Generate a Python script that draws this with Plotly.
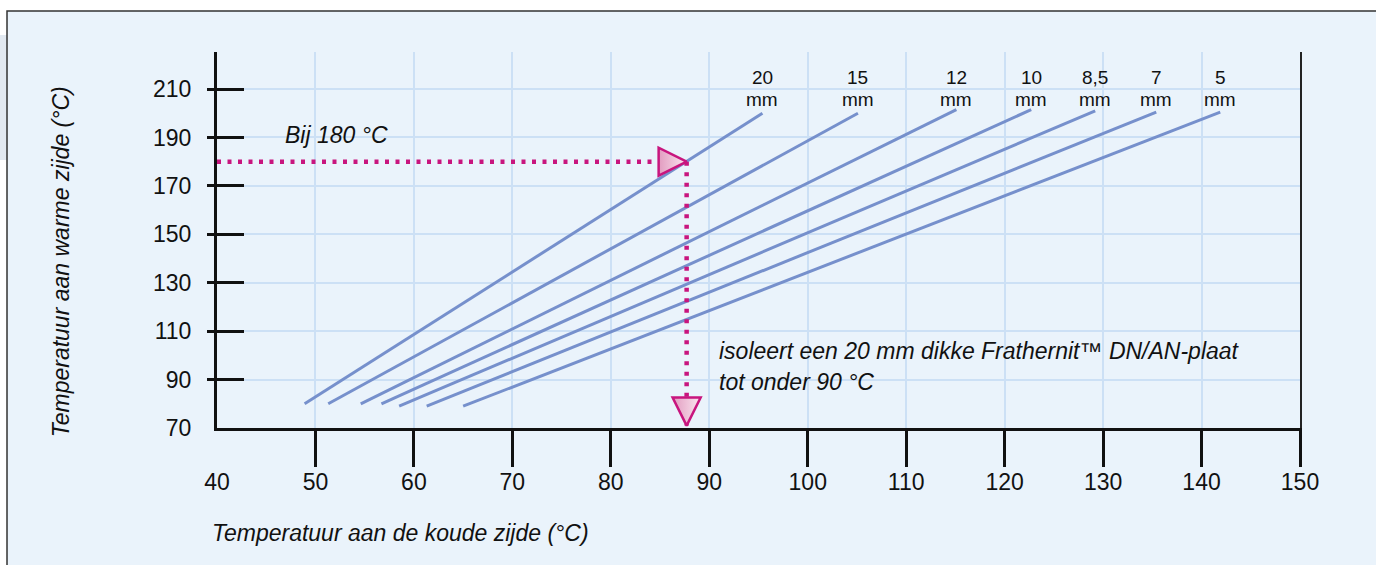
import plotly.graph_objects as go

# ---------------- data ----------------
thickness_labels = ["20", "15", "12", "10", "8,5", "7", "5"]
x_start = [48.9, 51.3, 54.6, 56.7, 58.5, 61.3, 65.0]
y_start = [80, 80, 80, 80, 79, 79, 79]
x_end = [95.4, 105.1, 115.1, 122.7, 129.2, 135.4, 141.9]
y_end = [200, 200, 201.5, 201.5, 201, 200.5, 200.5]

hot_side_reading = 180      # Bij 180 °C
cold_side_reading = 87.7    # resulting cold-side temperature (20 mm)
arrow_bottom_y = 71

x_ticks = [40, 50, 60, 70, 80, 90, 100, 110, 120, 130, 140, 150]
y_ticks = [70, 90, 110, 130, 150, 170, 190, 210]
x_range = [40, 150]
y_range = [70, 225.3]

# ---------------- style ----------------
FONT = "Liberation Sans, Arial, Helvetica, sans-serif"
BG = "#EAF3FB"
GRID = "#CCE0F5"
LINE_BLUE = "#7690CC"
MAGENTA = "#C8157E"

fig = go.Figure()

for i, lab in enumerate(thickness_labels):
    fig.add_trace(go.Scatter(
        x=[x_start[i], x_end[i]], y=[y_start[i], y_end[i]],
        mode="lines", line=dict(color=LINE_BLUE, width=3),
        hoverinfo="skip", showlegend=False))

# reading lines
fig.add_trace(go.Scatter(
    x=[x_range[0], cold_side_reading], y=[hot_side_reading, hot_side_reading],
    mode="lines", line=dict(color=MAGENTA, width=4.5, dash="4px,6.5px"),
    hoverinfo="skip", showlegend=False))
fig.add_trace(go.Scatter(
    x=[cold_side_reading, cold_side_reading], y=[hot_side_reading, arrow_bottom_y],
    mode="lines", line=dict(color=MAGENTA, width=4.5, dash="4px,6.5px"),
    hoverinfo="skip", showlegend=False))

arrow_marker = dict(size=28, color="#E29CC0",
                    gradient=dict(type="horizontal", color="#FAE6F0"),
                    line=dict(color=MAGENTA, width=2.5))
fig.add_trace(go.Scatter(
    x=[cold_side_reading], y=[hot_side_reading], mode="markers",
    marker=dict(symbol="arrow-right", **arrow_marker),
    hoverinfo="skip", showlegend=False, cliponaxis=False))
fig.add_trace(go.Scatter(
    x=[cold_side_reading], y=[arrow_bottom_y], mode="markers",
    marker=dict(symbol="arrow-down", **arrow_marker),
    hoverinfo="skip", showlegend=False, cliponaxis=False))

# empty traces so that the overlay axes (tick marks / right border) are drawn
for xa, ya in [("x2", "y"), ("x", "y2"), ("x", "y3"), ("x", "y4")]:
    fig.add_trace(go.Scatter(x=[], y=[], xaxis=xa, yaxis=ya, mode="lines",
                             hoverinfo="skip", showlegend=False))

# thickness labels (number above "mm"), on a common baseline
LBL = dict(family=FONT, size=19, color="#111")
for i, lab in enumerate(thickness_labels):
    fig.add_annotation(x=x_end[i], y=0.874, xref="x", yref="paper",
                       text="mm", showarrow=False,
                       xanchor="center", yanchor="middle", font=LBL)
    fig.add_annotation(x=x_end[i], y=0.9316, xref="x", yref="paper",
                       text=lab, showarrow=False,
                       xanchor="center", yanchor="middle", font=LBL)

# texts
TXT = dict(family=FONT, size=23, color="#111")
fig.add_annotation(x=46.7, y=191, xref="x", yref="y", text="<i>Bij 180 °C</i>",
                   showarrow=False, xanchor="left", yanchor="middle", font=TXT)
fig.add_annotation(x=90.8, y=101.9, xref="x", yref="y",
                   text="<i>isoleert een 20 mm dikke Frathernit™ DN/AN-plaat</i>",
                   showarrow=False, xanchor="left", yanchor="middle", font=TXT)
fig.add_annotation(x=90.8, y=88.9, xref="x", yref="y",
                   text="<i>tot onder 90 °C</i>",
                   showarrow=False, xanchor="left", yanchor="middle", font=TXT)
fig.add_annotation(x=-0.0065, y=-0.279, xref="paper", yref="paper",
                   text="<i>Temperatuur aan de koude zijde (°C)</i>",
                   showarrow=False, xanchor="left", yanchor="middle", font=TXT)
fig.add_annotation(x=-0.144, y=0.441, xref="paper", yref="paper",
                   text="<i>Temperatuur aan warme zijde (°C)</i>", textangle=-90,
                   showarrow=False, xanchor="center", yanchor="middle", font=TXT)

# background frame, side tab and gridline mask
fig.add_shape(type="rect", xref="paper", yref="paper", x0=-0.21, x1=-0.1939,
              y0=0.7128, y1=1.0452, fillcolor="#E2E9F1", line=dict(width=0), layer="below")
fig.add_shape(type="rect", xref="paper", yref="paper", x0=-0.1939, x1=1.2,
              y0=-0.6, y1=1.109, fillcolor=BG, line=dict(color="#333", width=1.5), layer="below")
fig.add_shape(type="rect", xref="paper", yref="paper", x0=0.0, x1=0.0305,
              y0=0.0, y1=1.0, fillcolor=BG, line=dict(width=0), layer="between")

tickfont = dict(family=FONT, size=23, color="#111")
fig.update_layout(
    width=1376, height=565,
    margin=dict(l=217, r=76, t=52, b=137),
    paper_bgcolor="white", plot_bgcolor=BG,
    showlegend=False,
    xaxis=dict(range=x_range, tickvals=x_ticks, ticktext=[str(v) for v in x_ticks],
               ticks="", showline=True, linecolor="#111", linewidth=3,
               showgrid=True, gridcolor=GRID, gridwidth=1.5, zeroline=False,
               tickfont=tickfont, ticklabelstandoff=31, fixedrange=True),
    xaxis2=dict(range=x_range, overlaying="x", anchor="y", side="bottom",
                tickvals=x_ticks[1:], ticks="outside", ticklen=38, tickwidth=3,
                tickcolor="#111", showticklabels=False, showgrid=False,
                showline=False, zeroline=False, fixedrange=True),
    yaxis=dict(range=y_range, tickvals=y_ticks, ticktext=[str(v) for v in y_ticks],
               ticks="", showline=True, linecolor="#111", linewidth=3,
               showgrid=True, gridcolor=GRID, gridwidth=1.5, zeroline=False,
               tickfont=tickfont, ticklabelstandoff=18, fixedrange=True),
    yaxis2=dict(range=y_range, overlaying="y", anchor="x", side="left",
                tickvals=y_ticks[1:], ticks="outside", ticklen=9, tickwidth=3,
                tickcolor="#111", showticklabels=False, showgrid=False,
                showline=False, zeroline=False, fixedrange=True),
    yaxis3=dict(range=y_range, overlaying="y", anchor="x", side="left",
                tickvals=y_ticks[1:], ticks="inside", ticklen=27, tickwidth=3,
                tickcolor="#111", showticklabels=False, showgrid=False,
                showline=False, zeroline=False, fixedrange=True),
    yaxis4=dict(range=y_range, overlaying="y", anchor="x", side="right",
                showticklabels=False, ticks="", showgrid=False,
                showline=True, linecolor="#222", linewidth=1.5, zeroline=False,
                fixedrange=True),
)

fig.write_html("out.html", config={"displayModeBar": False},
               post_script="document.body.style.margin='0';document.body.style.overflow='hidden';")
